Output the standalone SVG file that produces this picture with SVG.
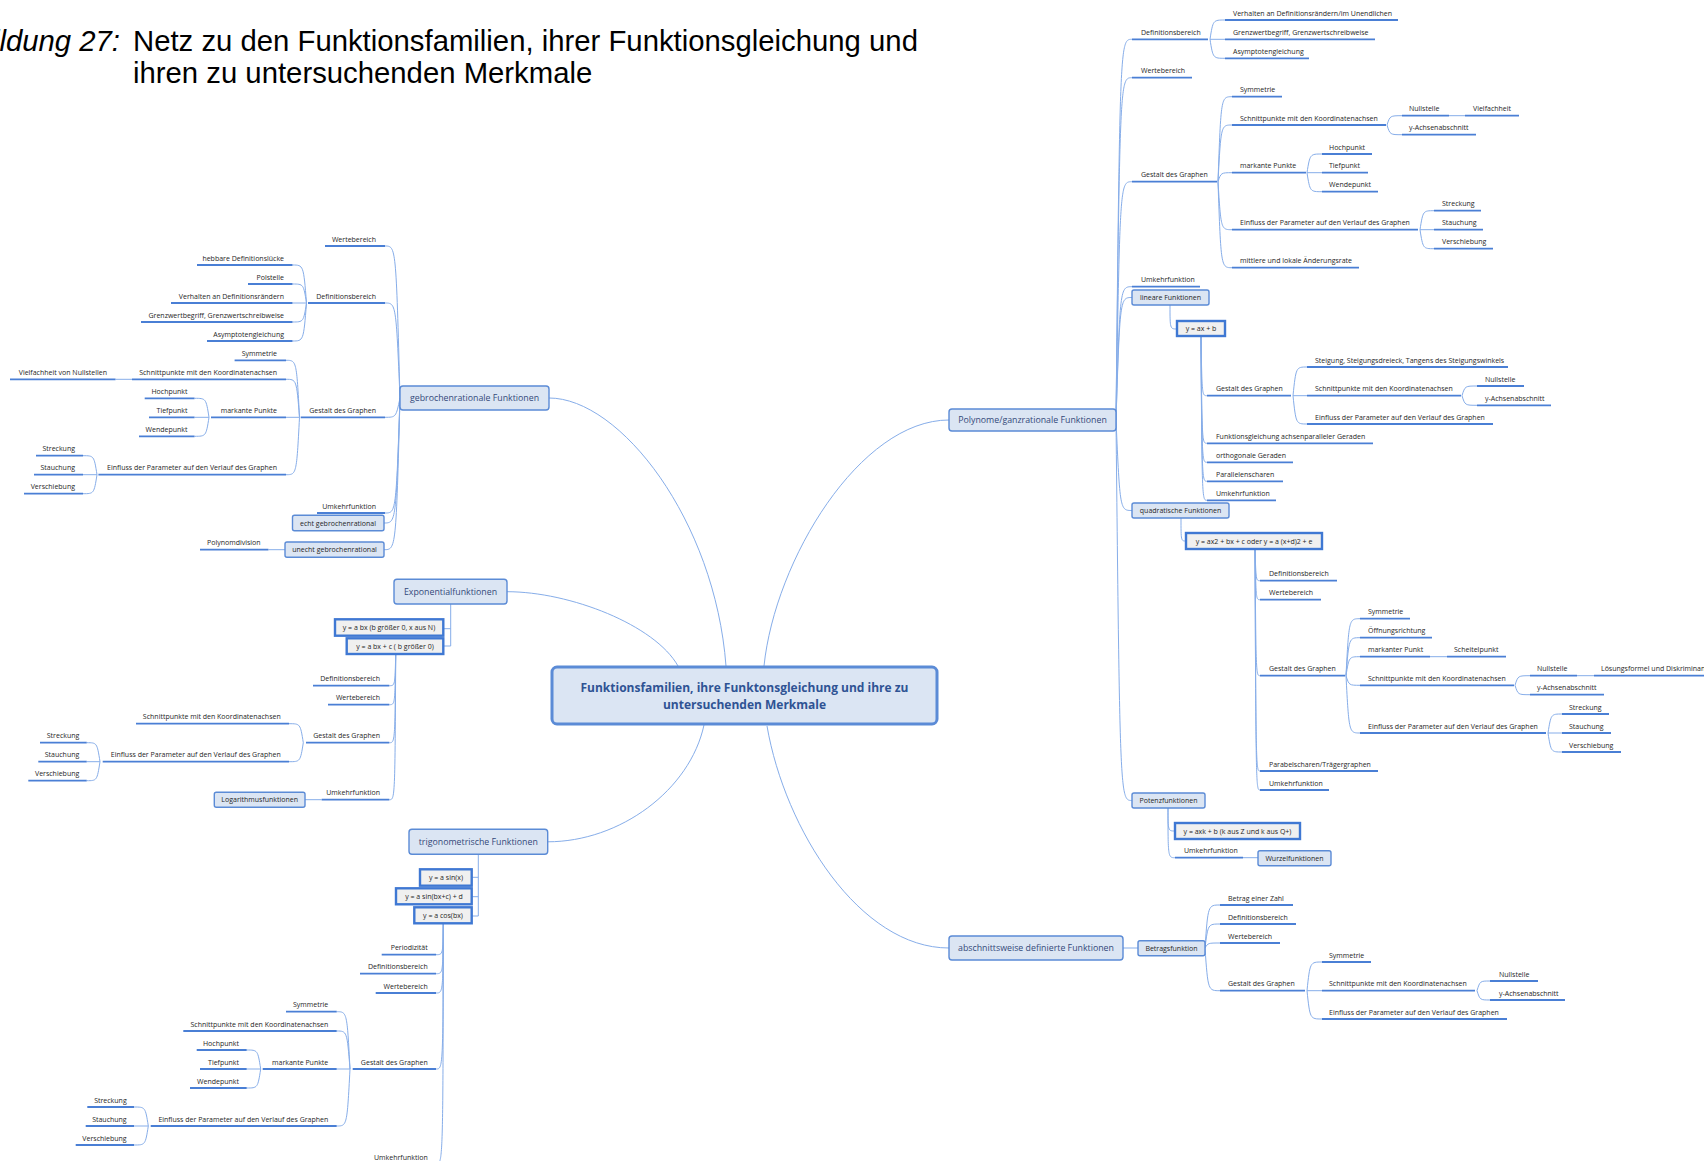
<svg xmlns="http://www.w3.org/2000/svg" width="1704" height="1161" viewBox="0 0 1704 1161">
<style>
text{font-family:"Open Sans","Noto Sans","DejaVu Sans",sans-serif;font-size:7px;fill:#262626}
.e{text-anchor:end}
.m{text-anchor:middle}
.u{fill:none;stroke:#4a7fd5;stroke-width:1.8}
.c{fill:none;stroke:#86ade9;stroke-width:1}
.bx{fill:#dbe5f3;stroke:#5b8bd6;stroke-width:1.4}
.fx{fill:#f0f0f0;stroke:#3f78d3;stroke-width:2.4}
.mt{font-size:8.8px;fill:#34497a;text-anchor:middle}
.ct{font-size:12px;font-weight:bold;fill:#2f5394;text-anchor:middle}
.ti{font-family:"Liberation Sans",Arial,sans-serif;font-size:29.3px;fill:#000}
</style>
<rect width="1704" height="1161" fill="#fff"/>

<!-- caption -->
<g id="caption">
<text class="ti e" x="120" y="51" font-style="italic">Abbildung 27:</text>
<text class="ti" x="133" y="51">Netz zu den Funktionsfamilien, ihrer Funktionsgleichung und</text>
<text class="ti" x="133" y="83">ihren zu untersuchenden Merkmale</text>
</g>

<!-- connectors -->
<g id="connectors" class="c">
<path d="M726 666C715 520 620 398 549 398"/>
<path d="M678 666C655 625 570 591.7 507 591.7"/>
<path d="M764 666C775 560 860 420 949 420"/>
<path d="M704 725C690 790 620 841.8 547.7 841.8"/>
<path d="M767 726C785 830 860 948 949 948"/>
<!-- polynome -->
<path d="M1116 420C1120 39.3 1120 39.3 1132 39.3M1116 420C1120 77.7 1120 77.7 1132 77.7M1116 420C1120 181.7 1120 181.7 1132 181.7M1116 420C1120 286.7 1120 286.7 1132 286.7M1116 420C1120 297.5 1120 297.5 1132 297.5M1116 420C1120 510.5 1120 510.5 1132 510.5M1116 420C1120 800.5 1120 800.5 1132 800.5"/>
<path d="M1210 39.3C1213 20 1213 20 1225 20M1210 39.3H1225M1210 39.3C1213 58.3 1213 58.3 1225 58.3"/>
<path d="M1218 181.7C1221 96.7 1221 96.7 1232 96.7M1218 181.7C1221 125 1221 125 1232 125M1218 181.7C1221 172.7 1221 172.7 1232 172.7M1218 181.7C1221 229.7 1221 229.7 1232 229.7M1218 181.7C1221 267.7 1221 267.7 1232 267.7"/>
<path d="M1387 125C1390 115.7 1390 115.7 1402 115.7M1387 125C1390 134.7 1390 134.7 1402 134.7M1449 115.7H1465"/>
<path d="M1307 172.7C1310 154 1310 154 1322 154M1307 172.7H1322M1307 172.7C1310 191.7 1310 191.7 1322 191.7"/>
<path d="M1420 229.7C1423 210.7 1423 210.7 1434 210.7M1420 229.7H1434M1420 229.7C1423 248.7 1423 248.7 1434 248.7"/>
<path d="M1170 305C1170 329 1170 329 1177 329"/>
<path d="M1201 336C1202 395.7 1202 395.7 1207 395.7M1201 336C1202 443.3 1202 443.3 1207 443.3M1201 336C1202 462.3 1202 462.3 1207 462.3M1201 336C1202 481.3 1202 481.3 1207 481.3M1201 336C1202 500.3 1202 500.3 1207 500.3"/>
<path d="M1293 395.7C1296 367 1296 367 1307 367M1293 395.7H1307M1293 395.7C1296 424 1296 424 1307 424"/>
<path d="M1462 395.7C1465 386 1465 386 1477 386M1462 395.7C1465 405.3 1465 405.3 1477 405.3"/>
<path d="M1181 518C1181 541 1181 541 1186 541"/>
<path d="M1255 549C1256 580.7 1256 580.7 1260 580.7M1255 549C1256 599.7 1256 599.7 1260 599.7M1255 549C1256 675.7 1256 675.7 1260 675.7M1255 549C1256 771 1256 771 1260 771M1255 549C1256 790 1256 790 1260 790"/>
<path d="M1346 675.7C1349 618.7 1349 618.7 1360 618.7M1346 675.7C1349 637.7 1349 637.7 1360 637.7M1346 675.7C1349 656.7 1349 656.7 1360 656.7M1346 675.7C1349 685.3 1349 685.3 1360 685.3M1346 675.7C1349 733 1349 733 1360 733M1430 656.7H1447"/>
<path d="M1515 685.3C1518 675.7 1518 675.7 1530 675.7M1515 685.3C1518 694.7 1518 694.7 1530 694.7M1577 675.7H1594"/>
<path d="M1548 733C1551 714 1551 714 1562 714M1548 733H1562M1548 733C1551 752 1551 752 1562 752"/>
<path d="M1168 808C1168 831 1168 831 1175 831M1168 808C1168 857.7 1168 857.7 1175 857.7M1243 857.7H1258"/>
<!-- abschnittsweise -->
<path d="M1123 948H1138"/>
<path d="M1205 948C1208 905 1208 905 1220 905M1205 948C1208 924 1208 924 1220 924M1205 948C1208 943 1208 943 1220 943M1205 948C1208 990.7 1208 990.7 1220 990.7"/>
<path d="M1307 990.7C1310 962 1310 962 1322 962M1307 990.7H1322M1307 990.7C1310 1019 1310 1019 1322 1019"/>
<path d="M1477 990.7C1480 981 1480 981 1490 981M1477 990.7C1480 1000 1480 1000 1490 1000"/>
<!-- gebrochenrational -->
<path d="M400 398C396 246 396 246 385 246M400 398C396 303 396 303 385 303M400 398C396 417.3 396 417.3 385 417.3M400 398C396 513 396 513 385 513M400 398C396 523 396 523 384 523M400 398C396 549.7 396 549.7 384 549.7"/>
<path d="M306.5 303C303.5 265 303.5 265 292.5 265M306.5 303C303.5 284 303.5 284 292.5 284M306.5 303H292.5M306.5 303C303.5 322 303.5 322 292.5 322M306.5 303C303.5 341 303.5 341 292.5 341"/>
<path d="M299.5 417.3C296.5 360.3 296.5 360.3 286 360.3M299.5 417.3C296.5 379.3 296.5 379.3 286 379.3M299.5 417.3H286M299.5 417.3C296.5 474.7 296.5 474.7 286 474.7M132 379.3H115.5"/>
<path d="M209 417.3C206 398.3 206 398.3 194.5 398.3M209 417.3H194.5M209 417.3C206 436.3 206 436.3 194.5 436.3"/>
<path d="M97 474.7C94 455.7 94 455.7 83 455.7M97 474.7H83M97 474.7C94 493.7 94 493.7 83 493.7"/>
<path d="M285 549.7H268.4"/>
<!-- exponential -->
<path d="M450.7 604V646H443.3M450.7 628.7H443.3"/>
<path d="M395.7 654C395 685.7 395 685.7 389.3 685.7M395.7 654C395 704.7 395 704.7 389.3 704.7M395.7 654C395 742.7 395 742.7 389.3 742.7M395.7 654C395 799.7 395 799.7 389.3 799.7"/>
<path d="M303.3 742.7C300.3 723.7 300.3 723.7 289 723.7M303.3 742.7C300.3 761.7 300.3 761.7 289 761.7"/>
<path d="M100 761.7C97 742.7 97 742.7 86.7 742.7M100 761.7H86.7M100 761.7C97 780.7 97 780.7 86.7 780.7"/>
<path d="M321.7 799.7H305"/>
<!-- trigonometric -->
<path d="M478.3 854.3V916H471.7M478.3 877.3H471.7M478.3 896.7H471.7"/>
<path d="M443.3 923.3C443 954.7 443 954.7 436 954.7M443.3 923.3C443 973.7 443 973.7 436 973.7M443.3 923.3C443 993 443 993 436 993M443.3 923.3C443 1069 443 1069 436 1069M443.3 923.3C443 1164 443 1164 436 1164"/>
<path d="M350 1069C347 1011.7 347 1011.7 336.7 1011.7M350 1069C347 1031 347 1031 336.7 1031M350 1069H336.7M350 1069C347 1126 347 1126 336.7 1126"/>
<path d="M260.7 1069C257.7 1050 257.7 1050 246.7 1050M260.7 1069H246.7M260.7 1069C257.7 1088 257.7 1088 246.7 1088"/>
<path d="M148.3 1126C145.3 1107 145.3 1107 134 1107M148.3 1126H134M148.3 1126C145.3 1145 145.3 1145 134 1145"/>
</g>

<!-- central topic -->
<g id="center">
<rect x="552" y="667" width="385" height="57" rx="5" fill="#dbe5f3" stroke="#5b8bd6" stroke-width="3"/>
<text class="ct" x="744.5" y="692">Funktionsfamilien, ihre Funktonsgleichung und ihre zu</text>
<text class="ct" x="744.5" y="708.5">untersuchenden Merkmale</text>
</g>

<!-- main topics -->
<g id="polynome"><rect class="bx" x="949" y="409" width="167" height="22" rx="3"/><text class="mt" x="1032.5" y="423.2">Polynome/ganzrationale Funktionen</text></g>
<g id="gebrochen"><rect class="bx" x="400" y="386" width="149" height="24" rx="3"/><text class="mt" x="474.5" y="401">gebrochenrationale Funktionen</text></g>
<g id="exponential"><rect class="bx" x="394" y="579.3" width="113" height="24.7" rx="3"/><text class="mt" x="450.5" y="594.8">Exponentialfunktionen</text></g>
<g id="trig"><rect class="bx" x="409" y="829.3" width="138.7" height="25" rx="3"/><text class="mt" x="478.3" y="845">trigonometrische Funktionen</text></g>
<g id="abschnitt"><rect class="bx" x="949" y="936" width="174" height="24" rx="3"/><text class="mt" x="1036" y="951">abschnittsweise definierte Funktionen</text></g>

<!-- Polynome / ganzrationale Funktionen -->
<g id="p-def"><path class="u" d="M1132 39.3H1208"/><text x="1141" y="35">Definitionsbereich</text></g>
<g id="p-def-rand"><path class="u" d="M1225 20H1398"/><text x="1233" y="15.7">Verhalten an Definitionsrändern/im Unendlichen</text></g>
<g id="p-def-grenz"><path class="u" d="M1225 39.3H1375"/><text x="1233" y="35">Grenzwertbegriff, Grenzwertschreibweise</text></g>
<g id="p-def-asym"><path class="u" d="M1225 58.3H1309"/><text x="1233" y="54">Asymptotengleichung</text></g>
<g id="p-wert"><path class="u" d="M1132 77.7H1192"/><text x="1141" y="73.4">Wertebereich</text></g>
<g id="p-gest"><path class="u" d="M1132 181.7H1217"/><text x="1141" y="177.4">Gestalt des Graphen</text></g>
<g id="p-sym"><path class="u" d="M1232 96.7H1282"/><text x="1240" y="92.4">Symmetrie</text></g>
<g id="p-schn"><path class="u" d="M1232 125H1386"/><text x="1240" y="120.7">Schnittpunkte mit den Koordinatenachsen</text></g>
<g id="p-null"><path class="u" d="M1402 115.7H1449"/><text x="1409" y="111.4">Nullstelle</text></g>
<g id="p-vielf"><path class="u" d="M1465 115.7H1519"/><text x="1473" y="111.4">Vielfachheit</text></g>
<g id="p-yach"><path class="u" d="M1402 134.7H1476"/><text x="1409" y="130.4">y-Achsenabschnitt</text></g>
<g id="p-mark"><path class="u" d="M1232 172.7H1306"/><text x="1240" y="168.4">markante Punkte</text></g>
<g id="p-hoch"><path class="u" d="M1322 154H1372"/><text x="1329" y="149.7">Hochpunkt</text></g>
<g id="p-tief"><path class="u" d="M1322 172.7H1368"/><text x="1329" y="168.4">Tiefpunkt</text></g>
<g id="p-wend"><path class="u" d="M1322 191.7H1378"/><text x="1329" y="187.4">Wendepunkt</text></g>
<g id="p-einf"><path class="u" d="M1232 229.7H1418"/><text x="1240" y="225.4">Einfluss der Parameter auf den Verlauf des Graphen</text></g>
<g id="p-str"><path class="u" d="M1434 210.7H1481"/><text x="1442" y="206.4">Streckung</text></g>
<g id="p-stau"><path class="u" d="M1434 229.7H1483"/><text x="1442" y="225.4">Stauchung</text></g>
<g id="p-vers"><path class="u" d="M1434 248.7H1493"/><text x="1442" y="244.4">Verschiebung</text></g>
<g id="p-rate"><path class="u" d="M1232 267.7H1359"/><text x="1240" y="263.4">mittlere und lokale Änderungsrate</text></g>
<g id="p-umk"><path class="u" d="M1132 286.7H1200"/><text x="1141" y="282.4">Umkehrfunktion</text></g>

<g id="lin"><rect class="bx" x="1132" y="290" width="77" height="15" rx="2"/><text class="m" x="1170.5" y="300">lineare Funktionen</text></g>
<g id="lin-f"><rect class="fx" x="1177" y="321" width="48" height="15"/><text class="m" x="1201" y="331">y = ax + b</text></g>
<g id="lin-gest"><path class="u" d="M1207 395.7H1291"/><text x="1216" y="391.4">Gestalt des Graphen</text></g>
<g id="lin-steig"><path class="u" d="M1307 367H1508"/><text x="1315" y="362.7">Steigung, Steigungsdreieck, Tangens des Steigungswinkels</text></g>
<g id="lin-schn"><path class="u" d="M1307 395.7H1461"/><text x="1315" y="391.4">Schnittpunkte mit den Koordinatenachsen</text></g>
<g id="lin-null"><path class="u" d="M1477 386H1524"/><text x="1485" y="381.7">Nullstelle</text></g>
<g id="lin-yach"><path class="u" d="M1477 405.3H1551"/><text x="1485" y="401">y-Achsenabschnitt</text></g>
<g id="lin-einf"><path class="u" d="M1307 424H1493"/><text x="1315" y="419.7">Einfluss der Parameter auf den Verlauf des Graphen</text></g>
<g id="lin-achs"><path class="u" d="M1207 443.3H1373"/><text x="1216" y="439">Funktionsgleichung achsenparalleler Geraden</text></g>
<g id="lin-orth"><path class="u" d="M1207 462.3H1293"/><text x="1216" y="458">orthogonale Geraden</text></g>
<g id="lin-par"><path class="u" d="M1207 481.3H1283"/><text x="1216" y="477">Parallelenscharen</text></g>
<g id="lin-umk"><path class="u" d="M1207 500.3H1276"/><text x="1216" y="496">Umkehrfunktion</text></g>

<g id="quad"><rect class="bx" x="1132" y="503" width="97" height="15" rx="2"/><text class="m" x="1180.5" y="513">quadratische Funktionen</text></g>
<g id="quad-f"><rect class="fx" x="1186" y="533" width="136" height="16"/><text class="m" x="1254" y="543.5">y = ax2 + bx + c oder y = a (x+d)2 + e</text></g>
<g id="q-def"><path class="u" d="M1260 580.7H1337"/><text x="1269" y="576.4">Definitionsbereich</text></g>
<g id="q-wert"><path class="u" d="M1260 599.7H1321"/><text x="1269" y="595.4">Wertebereich</text></g>
<g id="q-gest"><path class="u" d="M1260 675.7H1345"/><text x="1269" y="671.4">Gestalt des Graphen</text></g>
<g id="q-sym"><path class="u" d="M1360 618.7H1410"/><text x="1368" y="614.4">Symmetrie</text></g>
<g id="q-oeff"><path class="u" d="M1360 637.7H1432"/><text x="1368" y="633.4">Öffnungsrichtung</text></g>
<g id="q-mark"><path class="u" d="M1360 656.7H1430"/><text x="1368" y="652.4">markanter Punkt</text></g>
<g id="q-scheit"><path class="u" d="M1447 656.7H1506"/><text x="1454" y="652.4">Scheitelpunkt</text></g>
<g id="q-schn"><path class="u" d="M1360 685.3H1514"/><text x="1368" y="681">Schnittpunkte mit den Koordinatenachsen</text></g>
<g id="q-null"><path class="u" d="M1530 675.7H1577"/><text x="1537" y="671.4">Nullstelle</text></g>
<g id="q-loes"><path class="u" d="M1594 675.7H1720"/><text x="1601" y="671.4">Lösungsformel und Diskriminante</text></g>
<g id="q-yach"><path class="u" d="M1530 694.7H1604"/><text x="1537" y="690.4">y-Achsenabschnitt</text></g>
<g id="q-einf"><path class="u" d="M1360 733H1546"/><text x="1368" y="728.7">Einfluss der Parameter auf den Verlauf des Graphen</text></g>
<g id="q-str"><path class="u" d="M1562 714H1609"/><text x="1569" y="709.7">Streckung</text></g>
<g id="q-stau"><path class="u" d="M1562 733H1611"/><text x="1569" y="728.7">Stauchung</text></g>
<g id="q-vers"><path class="u" d="M1562 752H1621"/><text x="1569" y="747.7">Verschiebung</text></g>
<g id="q-parab"><path class="u" d="M1260 771H1378"/><text x="1269" y="766.7">Parabelscharen/Trägergraphen</text></g>
<g id="q-umk"><path class="u" d="M1260 790H1329"/><text x="1269" y="785.7">Umkehrfunktion</text></g>

<g id="pot"><rect class="bx" x="1132" y="793" width="73" height="15" rx="2"/><text class="m" x="1168.5" y="803">Potenzfunktionen</text></g>
<g id="pot-f"><rect class="fx" x="1175" y="823" width="125" height="16"/><text class="m" x="1237.5" y="833.5">y = axk + b (k aus Z und k aus Q+)</text></g>
<g id="pot-umk"><path class="u" d="M1175 857.7H1243"/><text x="1184" y="853.4">Umkehrfunktion</text></g>
<g id="wurzel"><rect class="bx" x="1258" y="850.7" width="73" height="15" rx="2"/><text class="m" x="1294.5" y="860.7">Wurzelfunktionen</text></g>

<!-- abschnittsweise definierte Funktionen -->
<g id="betrag"><rect class="bx" x="1138" y="940.7" width="67" height="15" rx="2"/><text class="m" x="1171.5" y="950.7">Betragsfunktion</text></g>
<g id="b-zahl"><path class="u" d="M1220 905H1293"/><text x="1228" y="900.7">Betrag einer Zahl</text></g>
<g id="b-def"><path class="u" d="M1220 924H1296"/><text x="1228" y="919.7">Definitionsbereich</text></g>
<g id="b-wert"><path class="u" d="M1220 943H1280"/><text x="1228" y="938.7">Wertebereich</text></g>
<g id="b-gest"><path class="u" d="M1220 990.7H1305"/><text x="1228" y="986.4">Gestalt des Graphen</text></g>
<g id="b-sym"><path class="u" d="M1322 962H1371"/><text x="1329" y="957.7">Symmetrie</text></g>
<g id="b-schn"><path class="u" d="M1322 990.7H1475"/><text x="1329" y="986.4">Schnittpunkte mit den Koordinatenachsen</text></g>
<g id="b-null"><path class="u" d="M1490 981H1538"/><text x="1499" y="976.7">Nullstelle</text></g>
<g id="b-yach"><path class="u" d="M1490 1000H1565"/><text x="1499" y="995.7">y-Achsenabschnitt</text></g>
<g id="b-einf"><path class="u" d="M1322 1019H1507"/><text x="1329" y="1014.7">Einfluss der Parameter auf den Verlauf des Graphen</text></g>

<!-- gebrochenrationale Funktionen -->
<g id="g-wert"><path class="u" d="M325 246H385"/><text class="e" x="376" y="241.7">Wertebereich</text></g>
<g id="g-def"><path class="u" d="M308 303H385"/><text class="e" x="376" y="298.7">Definitionsbereich</text></g>
<g id="g-hebb"><path class="u" d="M197 265H292.5"/><text class="e" x="284" y="260.7">hebbare Definitionslücke</text></g>
<g id="g-pol"><path class="u" d="M248 284H292.5"/><text class="e" x="284" y="279.7">Polstelle</text></g>
<g id="g-rand"><path class="u" d="M171 303H292.5"/><text class="e" x="284" y="298.7">Verhalten an Definitionsrändern</text></g>
<g id="g-grenz"><path class="u" d="M141 322H292.5"/><text class="e" x="284" y="317.7">Grenzwertbegriff, Grenzwertschreibweise</text></g>
<g id="g-asym"><path class="u" d="M207 341H292.5"/><text class="e" x="284" y="336.7">Asymptotengleichung</text></g>
<g id="g-gest"><path class="u" d="M300.7 417.3H385"/><text class="e" x="376" y="413">Gestalt des Graphen</text></g>
<g id="g-sym"><path class="u" d="M234.6 360.3H286"/><text class="e" x="277" y="356">Symmetrie</text></g>
<g id="g-schn"><path class="u" d="M132 379.3H286"/><text class="e" x="277" y="375">Schnittpunkte mit den Koordinatenachsen</text></g>
<g id="g-vielf"><path class="u" d="M10 379.3H115.5"/><text class="e" x="107" y="375">Vielfachheit von Nullstellen</text></g>
<g id="g-mark"><path class="u" d="M211 417.3H286"/><text class="e" x="277" y="413">markante Punkte</text></g>
<g id="g-hoch"><path class="u" d="M144.7 398.3H194.5"/><text class="e" x="187.5" y="394">Hochpunkt</text></g>
<g id="g-tief"><path class="u" d="M149 417.3H194.5"/><text class="e" x="187.5" y="413">Tiefpunkt</text></g>
<g id="g-wend"><path class="u" d="M139 436.3H194.5"/><text class="e" x="187.5" y="432">Wendepunkt</text></g>
<g id="g-einf"><path class="u" d="M98.4 474.7H286"/><text class="e" x="277" y="470.4">Einfluss der Parameter auf den Verlauf des Graphen</text></g>
<g id="g-str"><path class="u" d="M36 455.7H83"/><text class="e" x="75" y="451.4">Streckung</text></g>
<g id="g-stau"><path class="u" d="M34 474.7H83"/><text class="e" x="75" y="470.4">Stauchung</text></g>
<g id="g-vers"><path class="u" d="M24 493.7H83"/><text class="e" x="75" y="489.4">Verschiebung</text></g>
<g id="g-umk"><path class="u" d="M317 513H385"/><text class="e" x="376" y="508.7">Umkehrfunktion</text></g>
<g id="g-echt"><rect class="bx" x="292.5" y="515.3" width="91.5" height="15.4" rx="2"/><text class="m" x="338" y="525.5">echt gebrochenrational</text></g>
<g id="g-unecht"><rect class="bx" x="285" y="542" width="99" height="15.3" rx="2"/><text class="m" x="334.5" y="552.2">unecht gebrochenrational</text></g>
<g id="g-polydiv"><path class="u" d="M200 549.7H268.4"/><text class="e" x="260.6" y="545.4">Polynomdivision</text></g>

<!-- Exponentialfunktionen -->
<g id="e-f1"><rect class="fx" x="335" y="619.3" width="108.3" height="16.4"/><text class="m" x="389" y="630">y = a bx (b größer 0, x aus N)</text></g>
<g id="e-f2"><rect class="fx" x="346.7" y="638.3" width="96.6" height="15.7"/><text class="m" x="395" y="648.6">y = a bx + c ( b größer 0)</text></g>
<g id="e-def"><path class="u" d="M313 685.7H389.3"/><text class="e" x="380" y="681.4">Definitionsbereich</text></g>
<g id="e-wert"><path class="u" d="M328 704.7H389.3"/><text class="e" x="380" y="700.4">Wertebereich</text></g>
<g id="e-gest"><path class="u" d="M306 742.7H389.3"/><text class="e" x="380" y="738.4">Gestalt des Graphen</text></g>
<g id="e-schn"><path class="u" d="M136 723.7H289"/><text class="e" x="280.7" y="719.4">Schnittpunkte mit den Koordinatenachsen</text></g>
<g id="e-einf"><path class="u" d="M102.7 761.7H289"/><text class="e" x="280.7" y="757.4">Einfluss der Parameter auf den Verlauf des Graphen</text></g>
<g id="e-str"><path class="u" d="M40 742.7H86.7"/><text class="e" x="79.3" y="738.4">Streckung</text></g>
<g id="e-stau"><path class="u" d="M38.3 761.7H86.7"/><text class="e" x="79.3" y="757.4">Stauchung</text></g>
<g id="e-vers"><path class="u" d="M28.3 780.7H86.7"/><text class="e" x="79.3" y="776.4">Verschiebung</text></g>
<g id="e-umk"><path class="u" d="M321.7 799.7H389.3"/><text class="e" x="380" y="795.4">Umkehrfunktion</text></g>
<g id="e-log"><rect class="bx" x="214.3" y="792.3" width="90.7" height="15" rx="2"/><text class="m" x="259.7" y="802.3">Logarithmusfunktionen</text></g>

<!-- trigonometrische Funktionen -->
<g id="t-f1"><rect class="fx" x="420" y="869.3" width="51.7" height="16.4"/><text class="m" x="446" y="880">y = a sin(x)</text></g>
<g id="t-f2"><rect class="fx" x="396" y="888.3" width="75.7" height="16"/><text class="m" x="434" y="899">y = a sin(bx+c) + d</text></g>
<g id="t-f3"><rect class="fx" x="414.3" y="907.3" width="57.4" height="16"/><text class="m" x="443" y="918">y = a cos(bx)</text></g>
<g id="t-per"><path class="u" d="M381.7 954.7H436"/><text class="e" x="427.7" y="950.4">Periodizität</text></g>
<g id="t-def"><path class="u" d="M360 973.7H436"/><text class="e" x="427.7" y="969.4">Definitionsbereich</text></g>
<g id="t-wert"><path class="u" d="M375.7 993H436"/><text class="e" x="427.7" y="988.7">Wertebereich</text></g>
<g id="t-gest"><path class="u" d="M352.7 1069H436"/><text class="e" x="427.7" y="1064.7">Gestalt des Graphen</text></g>
<g id="t-sym"><path class="u" d="M286 1011.7H336.7"/><text class="e" x="328.3" y="1007.4">Symmetrie</text></g>
<g id="t-schn"><path class="u" d="M183.3 1031H336.7"/><text class="e" x="328.3" y="1026.7">Schnittpunkte mit den Koordinatenachsen</text></g>
<g id="t-mark"><path class="u" d="M262.7 1069H336.7"/><text class="e" x="328.3" y="1064.7">markante Punkte</text></g>
<g id="t-hoch"><path class="u" d="M196.7 1050H246.7"/><text class="e" x="239" y="1045.7">Hochpunkt</text></g>
<g id="t-tief"><path class="u" d="M200 1069H246.7"/><text class="e" x="239" y="1064.7">Tiefpunkt</text></g>
<g id="t-wend"><path class="u" d="M190 1088H246.7"/><text class="e" x="239" y="1083.7">Wendepunkt</text></g>
<g id="t-einf"><path class="u" d="M150.7 1126H336.7"/><text class="e" x="328.3" y="1121.7">Einfluss der Parameter auf den Verlauf des Graphen</text></g>
<g id="t-str"><path class="u" d="M87.3 1107H134"/><text class="e" x="126.7" y="1102.7">Streckung</text></g>
<g id="t-stau"><path class="u" d="M85.7 1126H134"/><text class="e" x="126.7" y="1121.7">Stauchung</text></g>
<g id="t-vers"><path class="u" d="M75.7 1145H134"/><text class="e" x="126.7" y="1140.7">Verschiebung</text></g>
<g id="t-umk"><path class="u" d="M368 1164H436"/><text class="e" x="427.7" y="1159.7">Umkehrfunktion</text></g>
</svg>
